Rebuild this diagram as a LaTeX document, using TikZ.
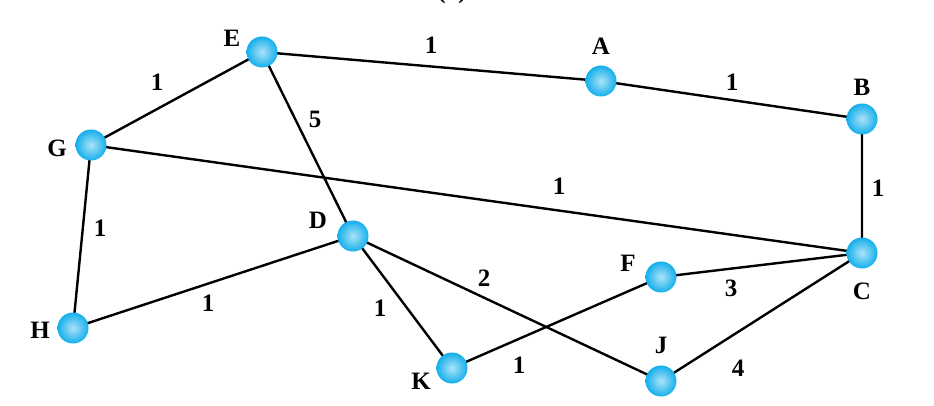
\documentclass[tikz,border=0pt]{standalone}
\usepackage{fontspec}
\setmainfont{Liberation Serif}
\definecolor{ballc}{RGB}{20,175,235}
\begin{document}
\begin{tikzpicture}[x=1pt,y=-1pt,
  vtx/.style={circle,minimum size=31pt,inner sep=0pt,shading=radial,inner color=ballc!35!white,outer color=ballc,draw=none},
  lbl/.style={font=\bfseries\fontsize{25}{30}\selectfont},
  wt/.style={font=\bfseries\fontsize{25}{30}\selectfont},
  edge/.style={line width=2.4pt}]
\useasboundingbox (0,0) rectangle (934,406);
\clip (0,0) rectangle (934,406);
\node[lbl] (title) at (452,-8) {(a)};
\coordinate (E) at (262,52);
\coordinate (A) at (601,81);
\coordinate (B) at (862,119);
\coordinate (G) at (91,145);
\coordinate (D) at (353,236);
\coordinate (C) at (862,253);
\coordinate (F) at (661,277);
\coordinate (H) at (73,328);
\coordinate (K) at (452,368);
\coordinate (J) at (661,381);
\draw[edge] (E)--(A) (A)--(B) (B)--(C) (E)--(G) (E)--(D) (G)--(C) (G)--(H) (H)--(D) (D)--(K) (D)--(J) (K)--(F) (F)--(C) (J)--(C);
\foreach \n in {E,A,B,G,D,C,F,H,K,J} \node[vtx] (n\n) at (\n) {};
\node[lbl] (lE) at (232,38) {E};
\node[lbl] (lA) at (601,46) {A};
\node[lbl] (lB) at (862,87) {B};
\node[lbl] (lG) at (57,148) {G};
\node[lbl] (lD) at (318,220) {D};
\node[lbl] (lC) at (862,291) {C};
\node[lbl] (lF) at (628,263) {F};
\node[lbl] (lH) at (40,330) {H};
\node[lbl] (lK) at (421,381) {K};
\node[lbl] (lJ) at (661,345) {J};
\node[wt] (w1) at (431,45) {1};
\node[wt] (w2) at (732,82) {1};
\node[wt] (w3) at (157,82) {1};
\node[wt] (w4) at (315,119) {5};
\node[wt] (w5) at (878,188) {1};
\node[wt] (w6) at (559,186) {1};
\node[wt] (w7) at (100,228) {1};
\node[wt] (w8) at (484,278) {2};
\node[wt] (w9) at (731,288) {3};
\node[wt] (w10) at (208,303) {1};
\node[wt] (w11) at (380,308) {1};
\node[wt] (w12) at (519,365) {1};
\node[wt] (w13) at (738,368) {4};
\end{tikzpicture}
\end{document}
